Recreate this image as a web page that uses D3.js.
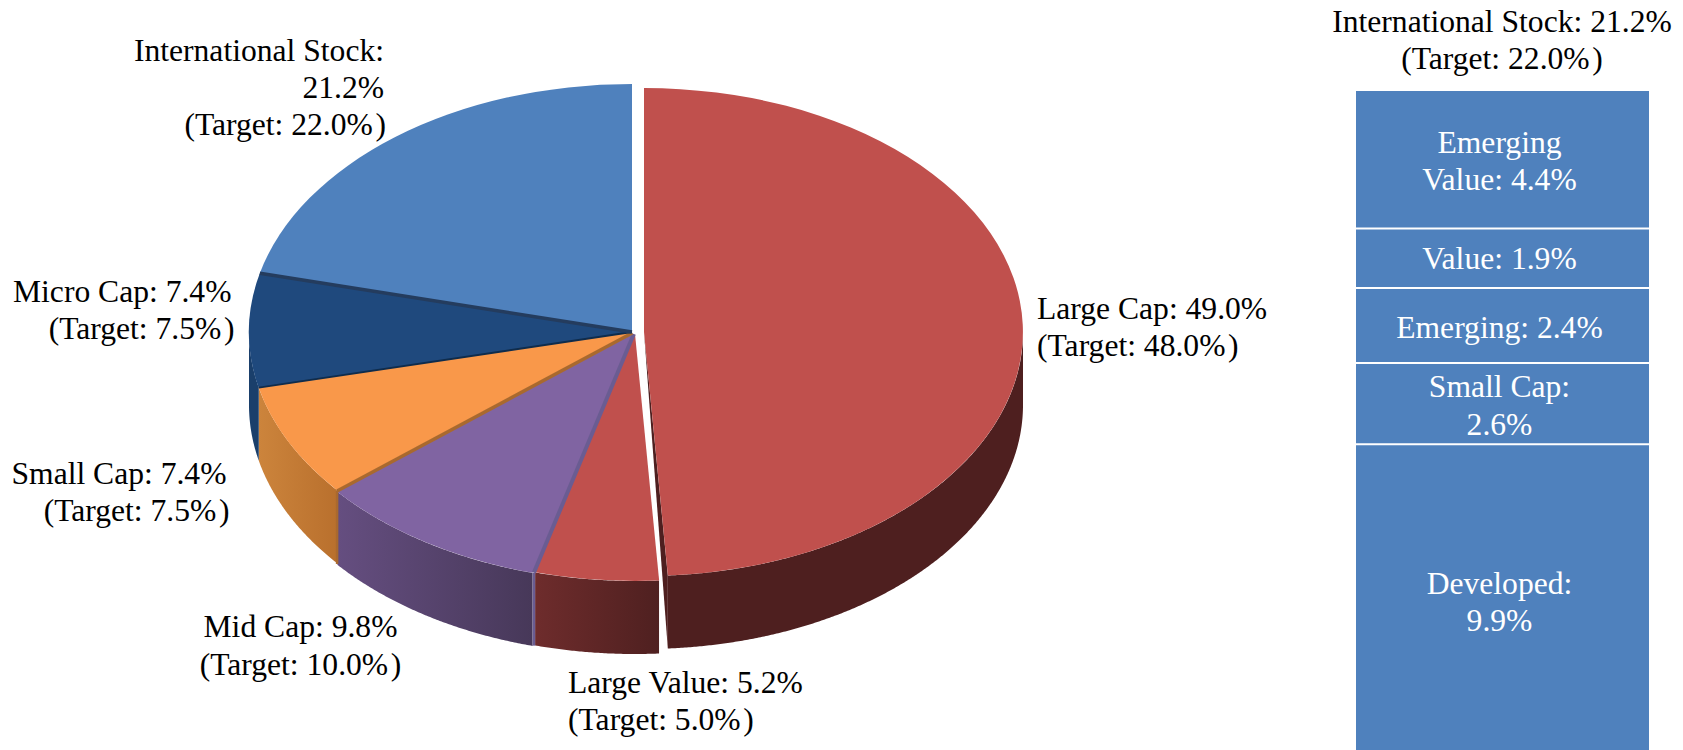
<!DOCTYPE html>
<html><head><meta charset="utf-8">
<script src="https://cdn.jsdelivr.net/npm/d3@7"></script>
<style>html,body{margin:0;padding:0;background:#fff;overflow:hidden}svg{display:block}text{font-family:"Liberation Serif","Times New Roman",serif;font-size:31.6px}</style>
</head><body><svg id="c" width="1683" height="750"></svg>
<script>
// ---- data ----
const sliceNames   = ["Large Cap","Large Value","Mid Cap","Small Cap","Micro Cap","International Stock"];
const sliceValues  = [49.0,5.2,9.8,7.4,7.4,21.2];
const sliceTargets = [48.0,5.0,10.0,7.5,7.5,22.0];
const sliceColors  = ["#c0504d","#c0504d","#8064a2","#f9984a","#1f497d","#4f81bd"];
const wallFrom     = ["#4e1f1f","#6e2c2c","#654e80","#cc843c","#1a3f6b","#1a3f6b"];
const wallTo       = ["#4e1f1f","#4f2020","#473859","#b9702d","#1a3f6b","#1a3f6b"];
const edgeColors   = [null,"#4e1f1f","#6a5c92","#a9692e","#0f2c4c","#243c5e"];
const edgeWidths   = [0,0,4,3.5,2,3.5];
const stackNames   = ["Emerging Value","Value","Emerging","Small Cap","Developed"];
const stackValues  = [4.4,1.9,2.4,2.6,9.9];
const stackTotal   = 21.2;
const stackTarget  = 22.0;
const pct = v => v.toFixed(1) + "%";

// ---- layout ----
const svg = d3.select("#c");
const depth = 73;
const mainPie = {cx:632, cy:332, rx:383, ry:248};
const cutPie  = {cx:644, cy:332, rx:379, ry:244};
const nudged  = {cx:635, cy:334, rx:383, ry:247};
const midPie  = {cx:632.5, cy:334, rx:383, ry:247.5};
const geom = i => i === 0 ? cutPie : i === 1 ? nudged : i === 2 ? midPie : mainPie;
const seamGeom = i => i === 2 ? {cx:633.8, cy:334, rx:383, ry:247.2}
                    : i === 3 ? {cx:632.2, cy:333, rx:383, ry:247.8} : geom(i);
const tau = 2*Math.PI;
const slices = d3.pie().sort(null).startAngle(0).endAngle(tau*d3.sum(sliceValues)/100)(sliceValues);
slices[slices.length-1].endAngle = tau;

const defs = svg.append("defs");
const px = (g,a) => g.cx + g.rx*Math.sin(a);
const py = (g,a) => g.cy - g.ry*Math.cos(a);
const wallArea = g => d3.area().x(a=>px(g,a)).y0(a=>py(g,a)).y1(a=>py(g,a)+depth);

// side walls (front half of the ellipse only)
d3.range(slices.length).forEach(i=>{
  const s = slices[i], g = geom(i);
  const a0 = Math.max(s.startAngle, Math.PI/2), a1 = Math.min(s.endAngle, 3*Math.PI/2);
  if (a1 <= a0) return;
  const n = Math.max(2, Math.ceil((a1-a0)/0.005));
  const angles = d3.range(n+1).map(k=>a0+(a1-a0)*k/n);
  const xs = d3.extent(angles, a=>px(g,a));
  const grad = defs.append("linearGradient").attr("id","w"+i).attr("gradientUnits","userSpaceOnUse")
    .attr("x1",xs[0]).attr("x2",xs[1]).attr("y1",0).attr("y2",0);
  grad.append("stop").attr("offset",0).attr("stop-color", wallFrom[i]);
  grad.append("stop").attr("offset",1).attr("stop-color", wallTo[i]);
  svg.append("path").attr("d",wallArea(g)(angles)).attr("fill",`url(#w${i})`);
});

// cut face of the exploded slice
{
  const g = cutPie, a = slices[0].endAngle;
  svg.append("path").attr("fill",wallTo[0])
    .attr("d",d3.line()([[g.cx,g.cy],[px(g,a),py(g,a)],[px(g,a),py(g,a)+depth]]));
}

// top faces
const arc = d3.arc().innerRadius(0).outerRadius(1);
slices.forEach((s,i)=>{
  const g = geom(i);
  svg.append("path").attr("d",arc(s)).attr("fill",sliceColors[i])
    .attr("transform",`translate(${g.cx},${g.cy}) scale(${g.rx},${g.ry})`);
});

// radial seams and wall dividers
slices.forEach((s,i)=>{
  if (!edgeColors[i] || !edgeWidths[i]) return;
  const g = seamGeom(i), a = s.startAngle;
  svg.append("line").attr("x1",g.cx).attr("y1",g.cy).attr("x2",px(g,a)).attr("y2",py(g,a))
    .attr("stroke",edgeColors[i]).attr("stroke-width",edgeWidths[i]);
  if (a > Math.PI/2 && a < 3*Math.PI/2 && i>=2 && i<=3) {
    svg.append("line").attr("x1",px(g,a)).attr("y1",py(g,a)).attr("x2",px(g,a)).attr("y2",py(g,a)+depth)
      .attr("stroke",edgeColors[i]).attr("stroke-width",2.5);
  }
});

// text helper: a closing parenthesis sits slightly apart from the number
function label(xs,anchor,baselines,lines,fill){
  const t = svg.append("text").attr("text-anchor",anchor).attr("fill",fill||"#000");
  const xAt = k => Array.isArray(xs) ? xs[k] : xs;
  lines.forEach((l,k)=>{
    if (l.endsWith(")")) {
      t.append("tspan").attr("x",xAt(k)).attr("y",baselines[k]).text(l.slice(0,-1));
      t.append("tspan").attr("dx",2.6).text(")");
    } else t.append("tspan").attr("x",xAt(k)).attr("y",baselines[k]).text(l);
  });
}
const tgt = v => `(Target: ${pct(v)})`;

label(1037,"start",[319,356],[`${sliceNames[0]}: ${pct(sliceValues[0])}`,tgt(sliceTargets[0])]);
label(568,"start",[693,730],[`${sliceNames[1]}: ${pct(sliceValues[1])}`,tgt(sliceTargets[1])]);
label(300.5,"middle",[637,675],[`${sliceNames[2]}: ${pct(sliceValues[2])}`,tgt(sliceTargets[2])]);
label([226.5,229.5],"end",[484,521],[`${sliceNames[3]}: ${pct(sliceValues[3])}`,tgt(sliceTargets[3])]);
label([231.5,234.5],"end",[302,339],[`${sliceNames[4]}: ${pct(sliceValues[4])}`,tgt(sliceTargets[4])]);
label([384,384,386],"end",[61,98,135],[`${sliceNames[5]}:`,pct(sliceValues[5]),tgt(sliceTargets[5])]);

// stacked column
const y = d3.scaleLinear().domain([0,stackTotal]).range([91,753.5]);
const colX = 1356, colW = 293, colMid = 1499.5;
let acc = 0;
const stack = stackValues.map(v=>{const r={a:acc,b:acc+v};acc+=v;return r;});
svg.selectAll("rect.s").data(stack).join("rect").attr("class","s")
  .attr("x",colX).attr("width",colW)
  .attr("y",d=>y(d.a)).attr("height",d=>y(d.b)-y(d.a))
  .attr("fill","#4f81bd");
svg.selectAll("line.g").data(stack.slice(1)).join("line").attr("class","g")
  .attr("x1",colX).attr("x2",colX+colW).attr("y1",d=>y(d.a)).attr("y2",d=>y(d.a))
  .attr("stroke","#fff").attr("stroke-width",2);

label(1502,"middle",[32,69],[`${sliceNames[5]}: ${pct(stackTotal)}`,tgt(stackTarget)]);
label(colMid,"middle",[153,190],["Emerging",`Value: ${pct(stackValues[0])}`],"#fff");
label(colMid,"middle",[269],[`${stackNames[1]}: ${pct(stackValues[1])}`],"#fff");
label(colMid,"middle",[338],[`${stackNames[2]}: ${pct(stackValues[2])}`],"#fff");
label(colMid,"middle",[397,435],[`${stackNames[3]}:`,pct(stackValues[3])],"#fff");
label(colMid,"middle",[594,631],[`${stackNames[4]}:`,pct(stackValues[4])],"#fff");
</script></body></html>
